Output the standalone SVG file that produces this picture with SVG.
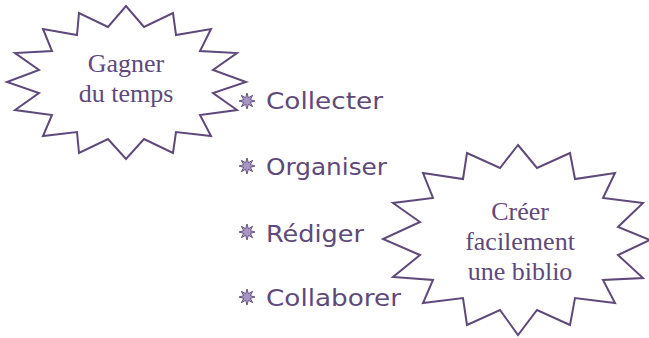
<svg xmlns="http://www.w3.org/2000/svg" width="649" height="338" viewBox="0 0 649 338">
<style>
.burst{fill:#ffffff;stroke:#5f497a;stroke-width:2;stroke-linejoin:miter}
.bt{font-family:"Liberation Serif","Times New Roman",serif;font-size:26px;fill:#5f497a;text-anchor:middle}
.it{font-family:"DejaVu Sans","Liberation Sans",sans-serif;font-size:23px;fill:#5f497a}
.bul{fill:#a796c4;stroke:#5f497a;stroke-width:0.9}
</style>
<defs>
<polygon id="star" class="bul" points="0,-8 1.4,-3.3 5.7,-5.7 3.3,-1.4 8,0 3.3,1.4 5.7,5.7 1.4,3.3 0,8 -1.4,3.3 -5.7,5.7 -3.3,1.4 -8,0 -3.3,-1.4 -5.7,-5.7 -1.4,-3.3"/>
</defs>
<rect width="649" height="338" fill="#ffffff"/>
<g id="node-gagner">
<polygon class="burst" points="126,6 144,27 173,13 176,35 211,29 200,51 237,53 213,70 246,82 213,93 237,110 200,115 211,136 176,132 173,153 144,139 126,159 108,139 79,153 77,132 43,136 52,115 15,110 39,93 7,82 39,70 15,53 52,51 43,29 77,35 79,13 108,27"/>
<text class="bt" x="126" y="72">Gagner</text>
<text class="bt" x="126" y="102">du temps</text>
</g>
<g id="node-creer">
<polygon class="burst" points="518,145 537,168 570,153 575,179 615,173 603,198 643,203 618,227 650,240 618,255 643,278 603,280 615,303 575,298 570,325 537,310 518,335 500,310 467,325 463,298 423,303 433,280 393,277 420,255 383,239 420,222 393,203 433,198 423,173 463,179 467,153 500,168"/>
<text class="bt" x="520" y="220">Créer</text>
<text class="bt" x="520" y="250">facilement</text>
<text class="bt" x="520" y="280">une biblio</text>
</g>
<g id="list">
<use href="#star" x="247" y="101"/>
<text class="it" x="266" y="109" textLength="117" lengthAdjust="spacingAndGlyphs">Collecter</text>
<use href="#star" x="247" y="166"/>
<text class="it" x="266" y="175" textLength="121" lengthAdjust="spacingAndGlyphs">Organiser</text>
<use href="#star" x="247" y="232"/>
<text class="it" x="266" y="242" textLength="98" lengthAdjust="spacingAndGlyphs">Rédiger</text>
<use href="#star" x="247" y="297"/>
<text class="it" x="266" y="306" textLength="135" lengthAdjust="spacingAndGlyphs">Collaborer</text>
</g>
<g id="connectors"></g>
</svg>
